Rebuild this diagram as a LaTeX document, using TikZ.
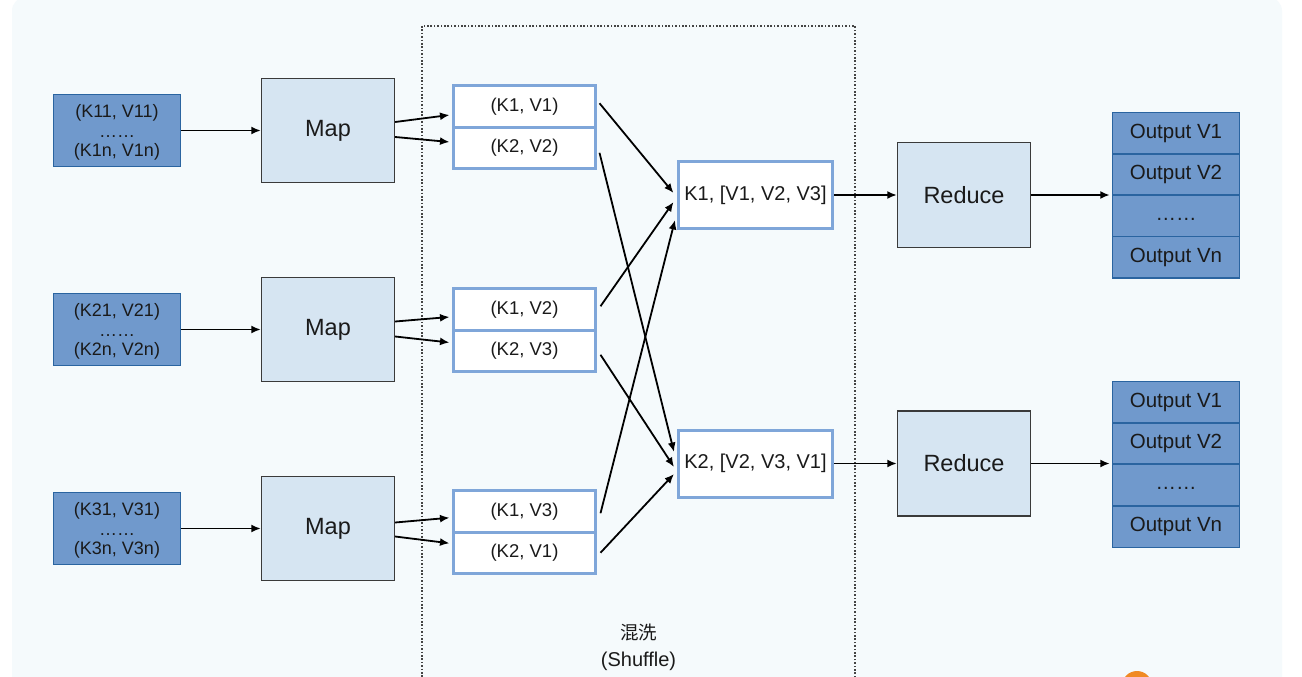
\documentclass[tikz,border=0pt]{standalone}
\usepackage{fontspec}
\setmainfont{Liberation Sans}
\newfontfamily\cjk{Noto Sans CJK SC}
\usetikzlibrary{arrows.meta,calc}
\definecolor{panelbg}{HTML}{F5FAFC}
\definecolor{infill}{HTML}{7099CC}
\definecolor{inborder}{HTML}{2A64A0}
\definecolor{mapfill}{HTML}{D6E5F2}
\definecolor{mapborder}{HTML}{3A3A3A}
\definecolor{pairborder}{HTML}{7FA6D9}
\definecolor{dotcol}{HTML}{444444}
\definecolor{orangedot}{HTML}{F08A24}
\definecolor{txt}{HTML}{1A1A1A}
\tikzset{
  inbox/.style={draw=inborder, fill=infill, line width=1.5pt, minimum width=127pt, minimum height=72pt, inner sep=0pt},
  intext/.style={align=center, inner sep=0pt, font=\fontsize{18}{19.5}\selectfont, text=txt},
  mapbox/.style={draw=mapborder, fill=mapfill, line width=1.3pt, minimum width=133pt, minimum height=104pt, inner sep=0pt, font=\fontsize{23.5}{26}\selectfont, text=txt},
  pairbox/.style={draw=pairborder, fill=white, line width=3pt, minimum width=142pt, minimum height=41.5pt, inner sep=0pt, font=\fontsize{18.5}{20}\selectfont, text=txt},
  kbox/.style={draw=pairborder, fill=white, line width=3pt, minimum width=154pt, minimum height=67pt, inner sep=0pt, font=\fontsize{20}{22}\selectfont, text=txt},
  outcell/.style={draw=inborder, fill=infill, line width=1.5pt, minimum width=127pt, minimum height=41.5pt, inner sep=0pt, font=\fontsize{20.5}{23}\selectfont, text=txt},
  arr/.style={-{Latex[length=9.5pt,width=8pt]}, line width=1.8pt, black},
  dotline/.style={draw=dotcol, line width=1.1pt, dash pattern=on 1.6pt off 1.8pt},
}
\newcommand{\oph}{\vphantom{Output Vp}}
\begin{document}
\begin{tikzpicture}[x=1pt,y=-1pt]
\useasboundingbox (0,0) rectangle (1302,677);
\clip (0,0) rectangle (1302,677);
\fill[white] (0,0) rectangle (1302,677);
\fill[panelbg, rounded corners=14pt] (12,-3) rectangle (1282,720);

% shuffle region
\draw[dotline] (422,26) rectangle (855,720);
\node[align=center, inner sep=0pt, font=\fontsize{20}{27}\selectfont, text=txt] (shuffle) at (638.5,647) {{\cjk\fontsize{18.5}{27}\selectfont 混洗}\\(Shuffle)};

% inputs
\node[inbox] (in1) at (117,130.5) {};
\node[inbox] (in2) at (117,329.5) {};
\node[inbox] (in3) at (117,528.5) {};
\node[intext] (t1) at (117,132.5) {(K11, V11)\\……\\(K1n, V1n)};
\node[intext] (t2) at (117,331.5) {(K21, V21)\\……\\(K2n, V2n)};
\node[intext] (t3) at (117,530.5) {(K31, V31)\\……\\(K3n, V3n)};

% maps
\node[mapbox] (map1) at (328,130.5) {Map};
\node[mapbox] (map2) at (328,329.5) {Map};
\node[mapbox] (map3) at (328,528.5) {Map};

% pairs
\node[pairbox] (p11) at (524.5,106.25) {(K1, V1)};
\node[pairbox] (p12) at (524.5,147.75) {(K2, V2)};
\node[pairbox] (p21) at (524.5,309.25) {(K1, V2)};
\node[pairbox] (p22) at (524.5,350.75) {(K2, V3)};
\node[pairbox] (p31) at (524.5,511.25) {(K1, V3)};
\node[pairbox] (p32) at (524.5,552.75) {(K2, V1)};

% grouped
\node[kbox] (k1) at (755.5,195) {K1, [V1, V2, V3]};
\node[kbox] (k2) at (755.5,463.5) {K2, [V2, V3, V1]};

% reduce
\node[mapbox, minimum height=105pt] (red1) at (964,195) {Reduce};
\node[mapbox, minimum height=105pt] (red2) at (964,463.5) {Reduce};

% outputs
\node[outcell] (o11) at (1176,133) {\oph Output V1};
\node[outcell] (o12) at (1176,174.5) {\oph Output V2};
\node[outcell] (o13) at (1176,215.5) {\oph ……};
\node[outcell] (o14) at (1176,257) {\oph Output Vn};
\node[outcell] (o21) at (1176,402) {\oph Output V1};
\node[outcell] (o22) at (1176,443.5) {\oph Output V2};
\node[outcell] (o23) at (1176,484.5) {\oph ……};
\node[outcell] (o24) at (1176,526.5) {\oph Output Vn};

% input -> map
\draw[arr] (in1.east) -- (map1.west);
\draw[arr] (in2.east) -- (map2.west);
\draw[arr] (in3.east) -- (map3.west);

% map -> pairs
\draw[arr] ($(map1.east)+(0,-8.5)$) -- ($(p11.west)+(-2.5,8.75)$);
\draw[arr] ($(map1.east)+(0,6.5)$) -- ($(p12.west)+(-2.5,-5.75)$);
\draw[arr] ($(map2.east)+(0,-8)$) -- ($(p21.west)+(-2.5,7.75)$);
\draw[arr] ($(map2.east)+(0,7)$) -- ($(p22.west)+(-2.5,-8.25)$);
\draw[arr] ($(map3.east)+(0,-6)$) -- ($(p31.west)+(-2.5,6.5)$);
\draw[arr] ($(map3.east)+(0,8)$) -- ($(p32.west)+(-2.5,-9.5)$);

% shuffle connections
\draw[arr] ($(p11.east)+(2.5,-3)$) -- ($(k1.west)+(-3.5,-2)$);
\draw[arr] ($(p21.east)+(3.5,-3)$) -- ($(k1.west)+(-3.5,7)$);
\draw[arr] ($(p31.east)+(3.5,2)$) -- ($(k1.west)+(-2,25)$);
\draw[arr] ($(p12.east)+(2.5,5)$) -- ($(k2.west)+(-3,-11.5)$);
\draw[arr] ($(p22.east)+(3.5,4)$) -- ($(k2.west)+(-3,3.5)$);
\draw[arr] ($(p32.east)+(3.5,0)$) -- ($(k2.west)+(-3,10.5)$);

% grouped -> reduce
\draw[arr] (k1.east) -- (red1.west);
\draw[arr] (k2.east) -- (red2.west);

% reduce -> outputs
\draw[arr, shorten >=2pt] (red1.east) -- (red1.east -| o11.west);
\draw[arr, shorten >=2pt] (red2.east) -- (red2.east -| o21.west);

% corner mark
\fill[orangedot] (1137,686) circle (15);
\end{tikzpicture}
\end{document}
